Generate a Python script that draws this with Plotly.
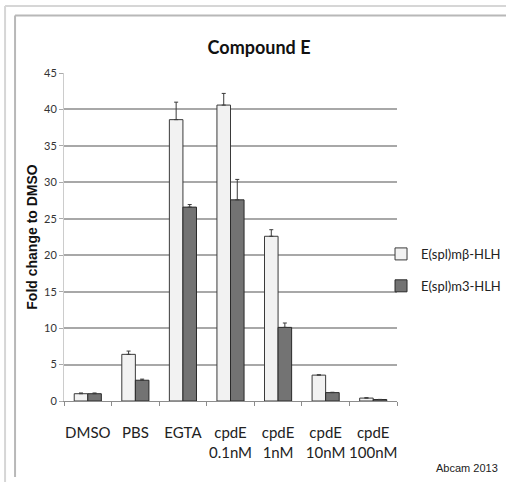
import plotly.graph_objects as go

categories = ["DMSO", "PBS", "EGTA", "cpdE<br>0.1nM", "cpdE<br>1nM", "cpdE<br>10nM", "cpdE<br>100nM"]
beta_vals = [1.0, 6.4, 38.6, 40.6, 22.6, 3.55, 0.4]
beta_err = [0.1, 0.45, 2.4, 1.6, 0.9, 0.05, 0.05]
m3_vals = [1.0, 2.85, 26.6, 27.6, 10.1, 1.15, 0.2]
m3_err = [0.1, 0.15, 0.35, 2.8, 0.6, 0.05, 0.02]
y_ticks = [0, 5, 10, 15, 20, 25, 30, 35, 40, 45]

NARROW = "Lato, Open Sans, sans-serif"

fig = go.Figure()
fig.add_trace(go.Bar(
    x=categories, y=beta_vals, name="E(spl)mβ-HLH",
    marker=dict(color="#f2f2f2", line=dict(color="#3a3a3a", width=1)),
    error_y=dict(type="data", array=beta_err, arrayminus=[0]*len(beta_err), symmetric=False,
                 color="#3a3a3a", thickness=1, width=2),
    legendgroup="a",
))
fig.add_trace(go.Bar(
    x=categories, y=m3_vals, name="E(spl)m3-HLH",
    marker=dict(color="#737373", line=dict(color="#2a2a2a", width=1)),
    error_y=dict(type="data", array=m3_err, arrayminus=[0]*len(m3_err), symmetric=False,
                 color="#3a3a3a", thickness=1, width=2),
    legendgroup="b",
))

# frame lines (paper coordinates)
shapes = [
    dict(type="line", xref="paper", yref="paper", x0=-0.177, x1=1.33, y0=1.204, y1=1.204,
         line=dict(color="#d6d6d6", width=2), layer="above"),
    dict(type="line", xref="paper", yref="paper", x0=-0.177, x1=-0.177, y0=1.204, y1=-0.25,
         line=dict(color="#d6d6d6", width=2), layer="above"),
    dict(type="line", xref="paper", yref="paper", x0=-0.147, x1=1.33, y0=1.175, y1=1.175,
         line=dict(color="#b8b8b8", width=2), layer="above"),
    dict(type="line", xref="paper", yref="paper", x0=-0.147, x1=-0.147, y0=1.175, y1=-0.232,
         line=dict(color="#b8b8b8", width=2), layer="above"),
]

fig.update_layout(
    width=506, height=482,
    margin=dict(l=64, r=109, t=73, b=81, autoexpand=False),
    paper_bgcolor="white", plot_bgcolor="white",
    barmode="group", bargap=0.43, bargroupgap=0,
    title=dict(text="<b>Compound E</b>", x=0.512, xanchor="center", y=1 - 48/482, yanchor="middle",
               font=dict(family=NARROW, size=18, color="#111111")),
    showlegend=True,
    legend=dict(x=0.952, xanchor="left", y=0.494, yanchor="top", tracegroupgap=12,
                font=dict(family=NARROW, size=13, color="#222222"), bgcolor="rgba(0,0,0,0)"),
    shapes=shapes,
    annotations=[dict(text="Abcam 2013", xref="paper", yref="paper", x=1.309, y=-0.204,
                      xanchor="right", yanchor="middle", showarrow=False,
                      font=dict(family="Liberation Sans, Arial, sans-serif", size=11, color="#222222"))],
)
fig.update_xaxes(
    showline=True, linecolor="#8c8c8c", linewidth=1,
    ticks="outside", tickson="boundaries", ticklen=4, tickcolor="#8c8c8c", tickangle=0,
    tickfont=dict(family=NARROW, size=15, color="#222222"), ticklabelstandoff=18,
    showgrid=False, automargin=False,
)
fig.update_yaxes(
    range=[0, 45], tickvals=y_ticks, showgrid=True, gridcolor="#a8a8a8", gridwidth=1.6,
    showline=True, linecolor="#cccccc", linewidth=1, ticks="outside", ticklen=4, tickcolor="#aaaaaa",
    tickfont=dict(family=NARROW, size=11, color="#333333"), zeroline=False, automargin=False,
    title=dict(text="<b>Fold change to DMSO</b>", standoff=3,
               font=dict(family="Liberation Sans, Arial, sans-serif", size=14, color="#111111")),
)

fig.write_html("out.html", config={"displayModeBar": False},
               post_script="document.body.style.margin='0';")
